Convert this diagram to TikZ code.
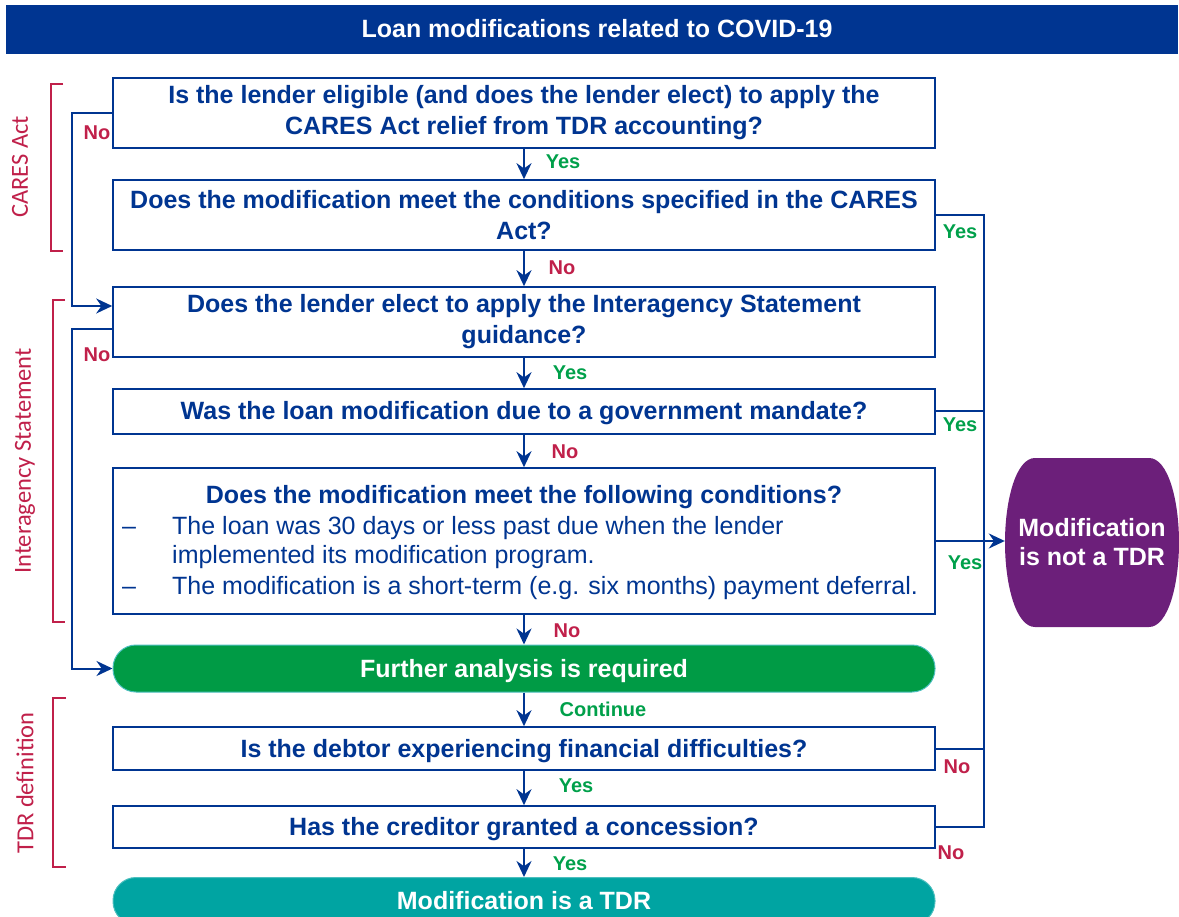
\documentclass[tikz,border=0pt]{standalone}
\usepackage{fontspec}
\setmainfont{Liberation Sans}
\newfontfamily\sidefont{Carlito}
\usetikzlibrary{arrows.meta,calc}

\definecolor{navy}{HTML}{003591}
\definecolor{crimson}{HTML}{C0204A}
\definecolor{okgreen}{HTML}{00A04A}
\definecolor{fillgreen}{HTML}{009B45}
\definecolor{fillteal}{HTML}{00A4A2}
\definecolor{plum}{HTML}{6C1F7A}

\begin{document}
\begin{tikzpicture}[x=1pt,y=-1pt,
  qbox/.style={draw=navy, line width=1.6pt, fill=white, minimum width=822pt,
    text=navy, font=\bfseries\fontsize{25}{31}\selectfont, align=center, inner sep=0pt},
  oneline/.style={text height=18pt, text depth=1pt},
  terminal/.style={draw=fillteal!70!white, line width=1pt, rounded corners=23pt,
    minimum width=822pt, minimum height=47pt, text=white,
    font=\bfseries\fontsize{25}{31}\selectfont, inner sep=0pt, oneline},
  bodytext/.style={text=navy, font=\fontsize{25}{31}\selectfont, inner sep=0pt,
    text height=18pt, text depth=5pt},
  flow/.style={draw=navy, line width=2.3pt, -{Stealth[length=16pt,width=15pt]}},
  rail/.style={draw=navy, line width=2pt},
  bracket/.style={draw=crimson, line width=2.8pt},
  sidelabel/.style={text=crimson, font=\sidefont\fontsize{24.5}{24.5}\selectfont, rotate=90},
  yes/.style={text=okgreen, font=\bfseries\fontsize{20}{20}\selectfont, inner sep=0pt},
  no/.style={text=crimson, font=\bfseries\fontsize{20}{20}\selectfont, inner sep=0pt}]

\useasboundingbox (0,0) rectangle (1179,917);

% title bar
\fill[navy] (6,5) rectangle (1178,54);
\node[text=white, font=\bfseries\fontsize{25}{25}\selectfont] (title) at (597,29) {Loan modifications related to COVID-19};

% question boxes
\node[qbox, minimum height=70pt] (b1) at (524,113)
  {Is the lender eligible (and does the lender elect) to apply the\\CARES Act relief from TDR accounting?};
\node[qbox, minimum height=70pt] (b2) at (524,215)
  {Does the modification meet the conditions specified in the CARES\\Act?};
\node[qbox, minimum height=70pt] (b3) at (524,322)
  {Does the lender elect to apply the Interagency Statement\\guidance?};
\node[qbox, oneline, minimum height=45pt] (b4) at (524,411.5)
  {Was the loan modification due to a government mandate?};
\node[qbox, minimum height=146pt] (b5) at (524,541) {};
\node[text=navy, font=\bfseries\fontsize{25}{31}\selectfont, inner sep=0pt,
  text height=18pt, text depth=5pt] (b5head) at (524,497)
  {Does the modification meet the following conditions?};
\node[bodytext, anchor=west] (d1) at (122,528) {--};
\node[bodytext, anchor=west] (c1) at (172,528) {The loan was 30 days or less past due when the lender};
\node[bodytext, anchor=west] (c1b) at (172,557) {implemented its modification program.};
\node[bodytext, anchor=west] (d2) at (122,588) {--};
\node[bodytext, anchor=west] (c2) at (172,588) {The modification is a short-term (e.g. six months) payment deferral.};

\node[terminal, fill=fillgreen] (fa) at (524,668.5) {Further analysis is required};
\node[qbox, oneline, minimum height=43pt] (b6) at (524,748.5) {Is the debtor experiencing financial difficulties?};
\node[qbox, oneline, minimum height=42pt] (b7) at (524,827) {Has the creditor granted a concession?};
\node[terminal, fill=fillteal] (tdr) at (524,901) {Modification is a TDR};

% outcome: not a TDR
\fill[plum] (1035,458) -- (1149,458)
  .. controls (1168,458) and (1179,500) .. (1179,542.5)
  .. controls (1179,585) and (1168,627) .. (1149,627)
  -- (1035,627)
  .. controls (1016,627) and (1005,585) .. (1005,542.5)
  .. controls (1005,500) and (1016,458) .. (1035,458) -- cycle;
\node[minimum width=174pt, minimum height=169pt, inner sep=0pt, text=white, align=center,
  font=\bfseries\fontsize{25}{29}\selectfont] (nt) at (1092,542.5) {Modification\\is not a TDR};

% main downward flow
\draw[flow] (b1) -- (b2);
\draw[flow] (b2) -- (b3);
\draw[flow] (b3) -- (b4);
\draw[flow] (b4) -- (b5);
\draw[flow] (b5) -- (fa);
\draw[flow] (fa) -- (b6);
\draw[flow] (b6) -- (b7);
\draw[flow] (b7) -- (tdr);

\node[yes] (l1) at (563,162) {Yes};
\node[no]  (l2) at (562,268) {No};
\node[yes] (l3) at (570,373) {Yes};
\node[no]  (l4) at (565,452) {No};
\node[no]  (l5) at (567,631) {No};
\node[yes] (l6) at (603,709) {Continue};
\node[yes] (l7) at (576,786) {Yes};
\node[yes] (l8) at (570,864) {Yes};

% left rail: lender does not apply the relief
\coordinate (lx) at (72,0);
\draw[rail, -{Stealth[length=16pt,width=15pt]}] (b1.west) -- (b1.west -| lx) |- ([yshift=16pt]b3.west);
\draw[rail, -{Stealth[length=16pt,width=15pt]}] ([yshift=-7pt]b3.west) -- ([yshift=-7pt]b3.west -| lx) |- (fa.west);
\node[no] (n1) at (97,133) {No};
\node[no] (n2) at (97,355) {No};

% right rail: outcomes that are not a TDR
\coordinate (rx) at (984,0);
\draw[rail] (b2.east) -| (b7.east -| rx) -- (b7.east);
\draw[rail] (b4.east) -- (b4.east -| rx);
\draw[rail] (b6.east) -- (b6.east -| rx);
\draw[flow] (b5.east) -- (b5.east -| nt.west);
\node[yes] (y1) at (960,232) {Yes};
\node[yes] (y2) at (960,425) {Yes};
\node[yes] (y3) at (965,563) {Yes};
\node[no]  (m1) at (957,767) {No};
\node[no]  (m2) at (951,853) {No};

% section brackets
\draw[bracket] (63,84) -- (51,84) -- (51,251) -- (63,251);
\draw[bracket] (65,300) -- (53,300) -- (53,622) -- (65,622);
\draw[bracket] (66,698) -- (53,698) -- (53,867) -- (66,867);
\node[sidelabel] (s1) at (20,167) {CARES Act};
\node[sidelabel] (s2) at (25,461) {Interagency Statement};
\node[sidelabel] (s3) at (25,783) {TDR definition};
\end{tikzpicture}
\end{document}
